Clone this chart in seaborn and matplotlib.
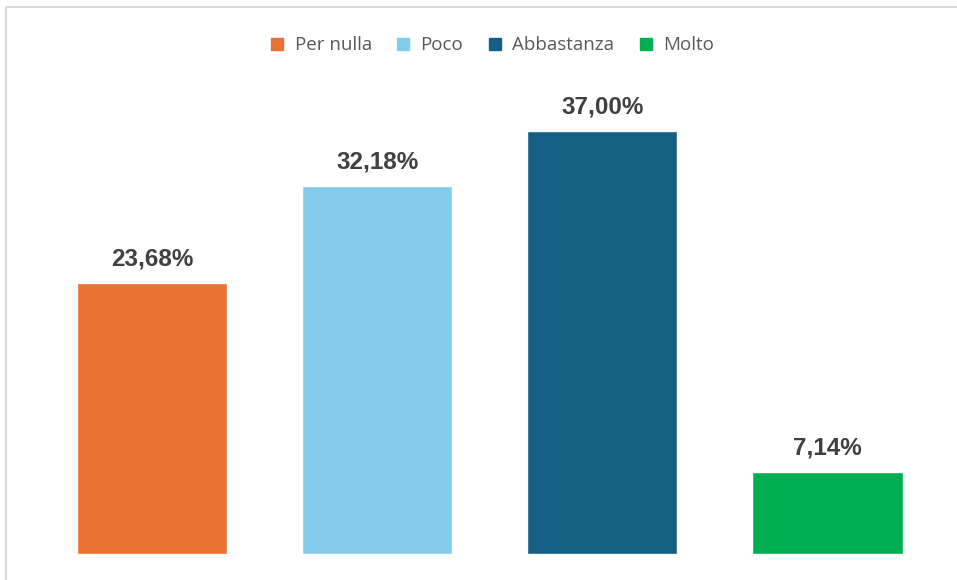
import matplotlib
matplotlib.use("Agg")
import matplotlib.pyplot as plt
from matplotlib.lines import Line2D
import seaborn as sns
import pandas as pd

categories = ["Per nulla", "Poco", "Abbastanza", "Molto"]
values = [23.68, 32.18, 37.00, 7.14]
colors = ["#E97132", "#83CBEB", "#156082", "#00B050"]

sns.set_theme(style="white")
plt.rcParams["font.family"] = ["Liberation Sans", "DejaVu Sans"]

W, H = 957, 580
fig = plt.figure(figsize=(W / 100, H / 100), dpi=100)
ax = fig.add_axes([39.5 / W, (H - 554) / H, (940 - 39.5) / W, (554 - 97) / H])

df = pd.DataFrame({"cat": categories, "val": values})
sns.barplot(data=df, x="cat", y="val", hue="cat", palette=colors,
            order=categories, hue_order=categories, width=0.667,
            legend=False, ax=ax, saturation=1)

ax.set_xlim(-0.5, 3.5)
ax.set_ylim(0, 40)
ax.set_xlabel("")
ax.set_ylabel("")
ax.set_xticks([])
ax.set_yticks([])
for s in ax.spines.values():
    s.set_visible(False)

for i, v in enumerate(values):
    ax.annotate(f"{v:.2f}".replace(".", ",") + "%", xy=(i, v),
                xytext=(0, 13), textcoords="offset points",
                ha="center", va="baseline", fontsize=17.5,
                fontweight="bold", color="#404040")

handles = [Line2D([0], [0], marker="s", linestyle="none", markersize=8,
                  markerfacecolor=c, markeredgecolor=c) for c in colors]
fig.legend(handles, categories, loc="center", bbox_to_anchor=(492 / W, 1 - 45.5 / H),
           ncol=4, frameon=False, labelcolor="#595959",
           handletextpad=0.55, columnspacing=1.3, handlelength=0.75,
           prop={"family": ["Open Sans", "DejaVu Sans"], "size": 13.5})

# light frame lines along the top and left edges
fig.add_artist(Line2D([6 / W, 1], [1 - 6.5 / H, 1 - 6.5 / H], color="#d9d9d9", lw=1.5))
fig.add_artist(Line2D([6 / W, 6 / W], [0, 1 - 6.5 / H], color="#d9d9d9", lw=1.5))

fig.savefig("out.png", dpi=100, facecolor="white")
